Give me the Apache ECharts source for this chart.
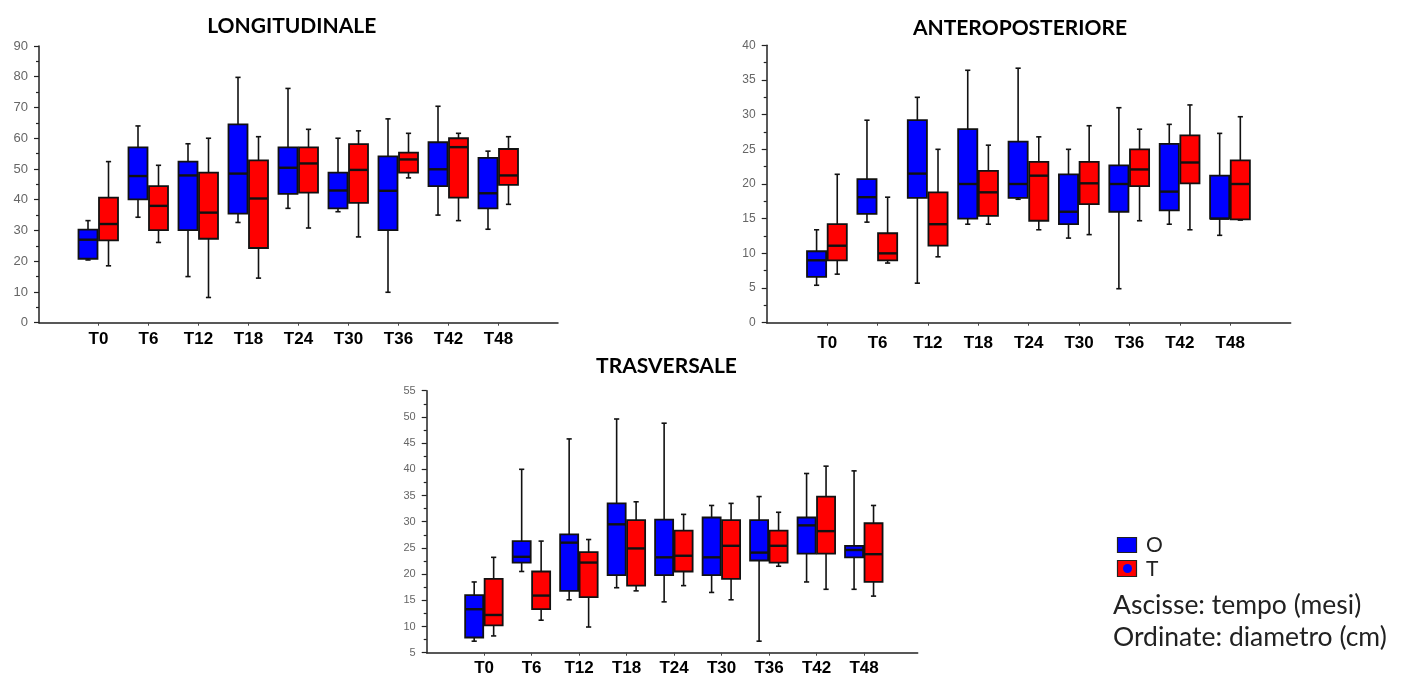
<!DOCTYPE html>
<html>
<head>
<meta charset="utf-8">
<script src="https://cdn.jsdelivr.net/npm/echarts@6/dist/echarts.min.js"></script>
<style>
html,body{margin:0;padding:0;background:#fff;}
#chart{width:1407px;height:678px;}
</style>
</head>
<body>
<div id="chart"></div>
<script>
// ---- DATA ----
const categories = ['T0','T6','T12','T18','T24','T30','T36','T42','T48'];
// each item: [min, q1, median, q3, max]
const longO = [
  [20.4,20.8,27.0,30.3,33.2],
  [34.3,40.1,47.7,57.0,64.0],
  [15.0,30.1,47.9,52.4,58.2],
  [32.6,35.5,48.5,64.5,79.8],
  [37.2,41.9,50.4,57.0,76.2],
  [36.1,37.2,43.0,48.8,60.0],
  [9.9,30.1,42.9,54.1,66.3],
  [35.0,44.4,49.9,58.7,70.4],
  [30.4,37.2,42.1,53.6,55.8]
];
const longT = [
  [18.5,26.8,32.1,40.7,52.4],
  [26.1,30.1,38.0,44.4,51.2],
  [8.2,27.3,35.8,48.8,60.0],
  [14.5,24.3,40.4,52.8,60.5],
  [30.8,42.3,51.8,57.0,62.9],
  [27.9,39.0,49.7,58.1,62.4],
  [47.1,48.8,53.1,55.3,61.6],
  [33.2,40.7,57.1,60.0,61.6],
  [38.5,44.8,47.9,56.5,60.5]
];
const antO = [
  [5.4,6.6,9.0,10.3,13.4],
  [14.5,15.7,18.1,20.7,29.2],
  [5.7,18.0,21.5,29.2,32.5],
  [14.2,15.0,20.0,27.9,36.4],
  [17.8,18.0,20.0,26.1,36.7],
  [12.2,14.2,16.0,21.4,25.0],
  [4.9,16.0,20.0,22.7,31.0],
  [14.2,16.2,18.9,25.8,28.6],
  [12.6,15.0,15.0,21.2,27.3]
];
const antT = [
  [7.0,9.0,11.1,14.2,21.4],
  [8.6,9.0,10.0,12.9,18.1],
  [9.5,11.1,14.2,18.8,25.0],
  [14.2,15.4,18.8,21.9,25.6],
  [13.4,14.7,21.2,23.2,26.8],
  [12.7,17.1,20.1,23.2,28.4],
  [14.7,19.7,22.1,25.0,27.9],
  [13.4,20.1,23.1,27.0,31.4],
  [14.8,14.9,20.0,23.4,29.7]
];
const trasO = [
  [7.2,7.9,13.3,16.0,18.5],
  [20.5,22.2,23.3,26.3,40.0],
  [15.1,16.8,26.0,27.6,45.8],
  [17.4,19.8,29.5,33.5,49.6],
  [14.7,19.8,23.2,30.4,48.8],
  [16.5,19.8,23.2,30.8,33.1],
  [7.2,22.6,24.1,30.3,34.8],
  [18.5,23.9,29.3,30.8,39.2],
  [17.1,23.2,24.6,25.4,39.7]
];
const trasT = [
  [8.2,10.2,12.2,19.1,23.2],
  [11.2,13.3,15.9,20.5,26.3],
  [9.9,15.6,22.2,24.2,26.6],
  [16.8,17.8,24.9,30.3,33.8],
  [17.8,20.5,23.5,28.3,31.4],
  [15.1,19.1,25.4,30.3,33.5],
  [21.5,22.2,25.4,28.3,31.8],
  [17.1,23.9,28.2,34.8,40.6],
  [15.8,18.5,23.8,29.7,33.1]
];
const titles = ['LONGITUDINALE','ANTEROPOSTERIORE','TRASVERSALE'];
const groupNames = ['O','T'];
const legendNotes = ['Ascisse: tempo (mesi)','Ordinate: diametro (cm)'];

// ---- CHART ----
const BLUE = '#0000ff', RED = '#ff0000';
const BOX_W = 0.38, OFF_O = -0.21, OFF_T = 0.2;
const catIdx = categories.map((c,i)=>i);

function toItems(arr, off){
  return arr.map((d,i)=>[i+off].concat(d));
}
function renderBox(params, api){
  const x = api.value(0);
  const pMin = api.coord([x, api.value(1)]);
  const pQ1 = api.coord([x, api.value(2)]);
  const pMed = api.coord([x, api.value(3)]);
  const pQ3 = api.coord([x, api.value(4)]);
  const pMax = api.coord([x, api.value(5)]);
  const w = api.size([BOX_W, 0])[0];
  const cx = pMed[0];
  const cap = 2.6;
  const fill = api.visual('color');
  const ls = {stroke:'#111', lineWidth:1.6};
  return {
    type:'group',
    children:[
      {type:'line', shape:{x1:cx,y1:pMax[1],x2:cx,y2:pQ3[1]}, style:ls},
      {type:'line', shape:{x1:cx,y1:pQ1[1],x2:cx,y2:pMin[1]}, style:ls},
      {type:'line', shape:{x1:cx-cap,y1:pMax[1],x2:cx+cap,y2:pMax[1]}, style:ls},
      {type:'line', shape:{x1:cx-cap,y1:pMin[1],x2:cx+cap,y2:pMin[1]}, style:ls},
      {type:'rect', shape:{x:cx-w/2,y:pQ3[1],width:w,height:pQ1[1]-pQ3[1]}, style:{fill:fill, stroke:'#111', lineWidth:1.8}},
      {type:'line', shape:{x1:cx-w/2,y1:pMed[1],x2:cx+w/2,y2:pMed[1]}, style:{stroke:'#111', lineWidth:2.4}}
    ]
  };
}

const panels = [
  {grid:{left:39, top:46, width:519, height:276.7}, xmin:-1.19, xmax:9.19, ymin:0, ymax:90, step:10, yFont:13, xMargin:8, O:longO, T:longT},
  {grid:{left:766.7, top:45.3, width:524, height:277.4}, xmin:-1.2, xmax:9.2, ymin:0, ymax:40, step:5, yFont:12, xMargin:12, O:antO, T:antT},
  {grid:{left:426.7, top:390.7, width:491, height:262}, xmin:-1.21, xmax:9.13, ymin:5, ymax:55, step:5, yFont:11, xMargin:7, O:trasO, T:trasT}
];

const option = {
  animation:false,
  backgroundColor:'#fff',
  grid: panels.map(p=>Object.assign({containLabel:false}, p.grid)),
  xAxis: panels.map((p,k)=>({
    type:'value', gridIndex:k, min:p.xmin, max:p.xmax,
    splitLine:{show:false},
    axisLine:{show:true, onZero:false, lineStyle:{color:'#222', width:1.5}},
    axisTick:{show:true, customValues:catIdx, length:3, lineStyle:{color:'#444', width:1}},
    axisLabel:{show:true, customValues:catIdx, margin:p.xMargin,
      formatter:(v)=>categories[Math.round(v)],
      color:'#000', fontWeight:'bold', fontSize:17, fontFamily:'Liberation Sans, Arial, sans-serif'}
  })),
  yAxis: panels.map((p,k)=>({
    type:'value', gridIndex:k, min:p.ymin, max:p.ymax, interval:p.step,
    splitLine:{show:false},
    axisLine:{show:true, onZero:false, lineStyle:{color:'#222', width:1.5}},
    axisTick:{show:true, length:5, lineStyle:{color:'#222', width:1.2}},
    minorTick:{show:true, splitNumber:2, length:3, lineStyle:{color:'#222', width:1.2}},
    axisLabel:{margin:11, color:'#666', fontSize:p.yFont, fontFamily:'Liberation Sans, Arial, sans-serif'}
  })),
  series: []
};
panels.forEach((p,k)=>{
  option.series.push({
    type:'custom', name:groupNames[0], xAxisIndex:k, yAxisIndex:k,
    itemStyle:{color:BLUE}, renderItem:renderBox,
    encode:{x:0, y:[1,2,3,4,5]}, data:toItems(p.O, OFF_O)
  });
  option.series.push({
    type:'custom', name:groupNames[1], xAxisIndex:k, yAxisIndex:k,
    itemStyle:{color:RED}, renderItem:renderBox,
    encode:{x:0, y:[1,2,3,4,5]}, data:toItems(p.T, OFF_T)
  });
});

const titleFont = 'bold 21px Lato, "Liberation Sans", sans-serif';
const noteFont = '26.5px Lato, "Noto Sans", sans-serif';
option.graphic = [
  {type:'text', x:291.7, y:26, style:{text:titles[0], font:titleFont, fill:'#000', textAlign:'center', textVerticalAlign:'middle'}},
  {type:'text', x:1020, y:28, style:{text:titles[1], font:titleFont, fill:'#000', textAlign:'center', textVerticalAlign:'middle'}},
  {type:'text', x:666.5, y:366, style:{text:titles[2], font:titleFont, fill:'#000', textAlign:'center', textVerticalAlign:'middle'}},
  {type:'rect', shape:{x:1117.5, y:537.5, width:19, height:15}, style:{fill:BLUE, stroke:'#222', lineWidth:1.2}},
  {type:'rect', shape:{x:1117.5, y:560.5, width:19, height:16}, style:{fill:RED, stroke:'#222', lineWidth:1.2}},
  {type:'circle', shape:{cx:1127.5, cy:568.5, r:4.5}, style:{fill:BLUE}},
  {type:'text', x:1146, y:545, style:{text:groupNames[0], font:'21px Lato, "Noto Sans", sans-serif', fill:'#222', textVerticalAlign:'middle'}},
  {type:'text', x:1146, y:569, style:{text:groupNames[1], font:'21px Lato, "Noto Sans", sans-serif', fill:'#222', textVerticalAlign:'middle'}},
  {type:'text', x:1113, y:605, style:{text:legendNotes[0], font:noteFont, fill:'#222', textVerticalAlign:'middle'}},
  {type:'text', x:1113, y:637, style:{text:legendNotes[1], font:noteFont, fill:'#222', textVerticalAlign:'middle'}}
];

const chart = echarts.init(document.getElementById('chart'), null, {renderer:'canvas'});
chart.setOption(option);
</script>
</body>
</html>
